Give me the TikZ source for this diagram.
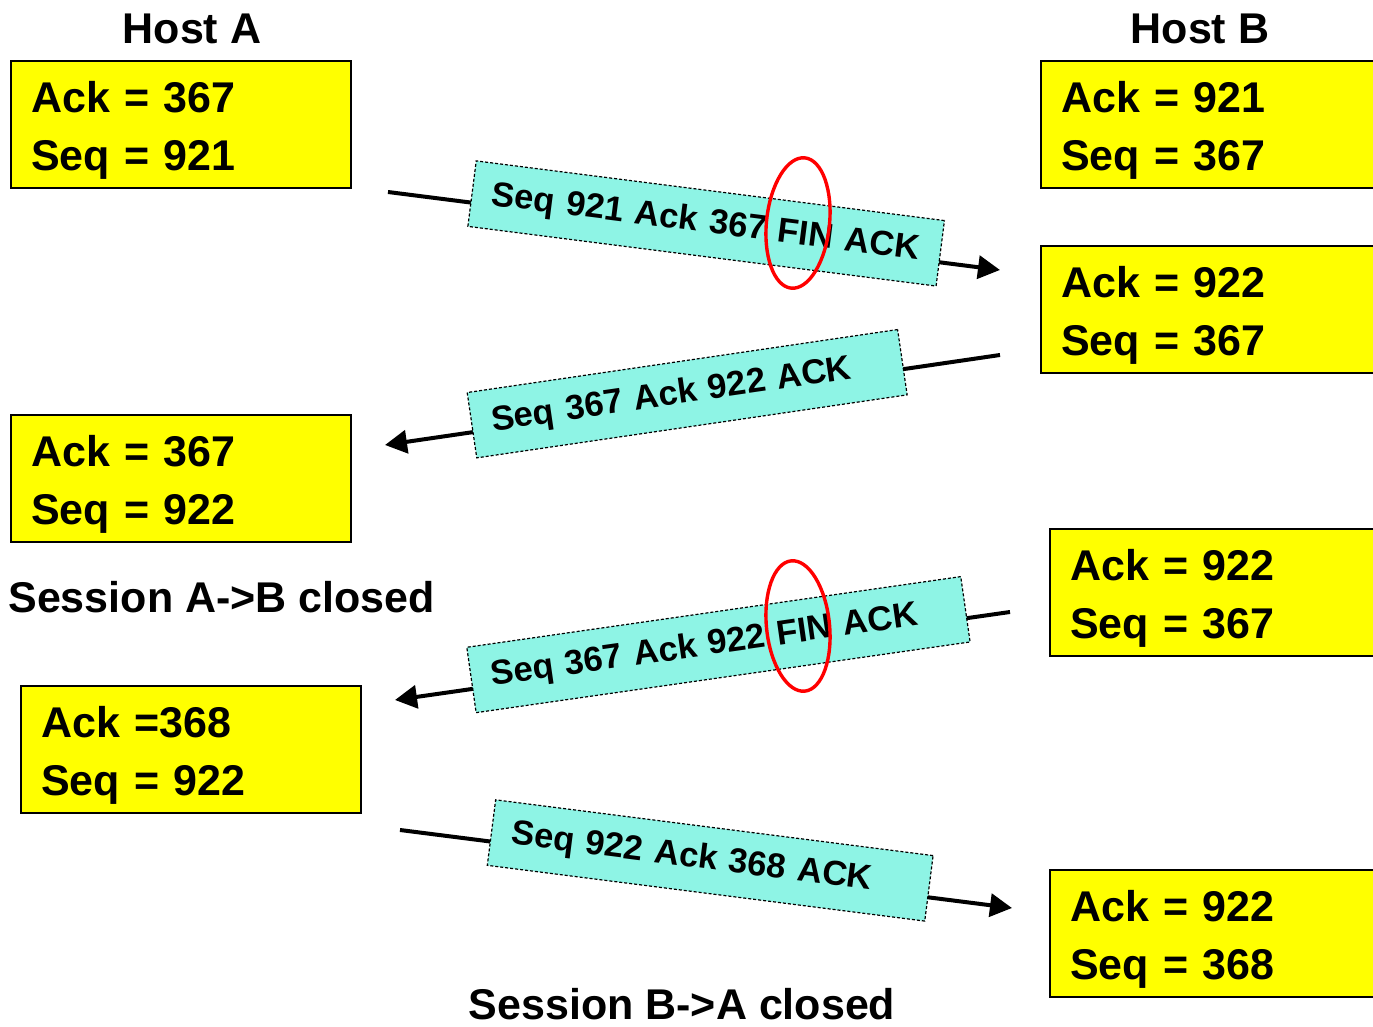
\documentclass[tikz,border=0pt]{standalone}
\usepackage{fontspec}
\setmainfont{Liberation Sans}
\usepackage{xcolor}
\usetikzlibrary{shapes,arrows,arrows.meta,positioning}

\definecolor{segcyan}{RGB}{142,244,229}
\definecolor{boxyellow}{RGB}{255,255,0}

\begin{document}
\begin{tikzpicture}[x=0.5pt, y=-0.5pt]
    % Define styles
    \tikzstyle{counter} = [rectangle, draw=black, line width=1.1pt, fill=boxyellow, anchor=north west, text width=150pt, align=left, inner xsep=10pt, inner ysep=0pt, text height=25.5pt, text depth=38pt, font=\fontsize{21.5}{29}\selectfont\bfseries]
    \tikzstyle{segment} = [rectangle, draw=black, line width=0.6pt, dash pattern=on 1.5pt off 1pt, fill=segcyan, sloped, minimum height=33pt, inner xsep=10pt, align=left, font=\fontsize{17.3}{20}\selectfont\bfseries, yshift=4.5pt]
    \tikzstyle{arrow} = [line width=2pt, -{Triangle[length=11pt, width=11.5pt]}]
    \tikzstyle{backarrow} = [line width=2pt, {Triangle[length=11pt, width=11.5pt]}-]
    \tikzstyle{finmark} = [ellipse, draw=red, line width=1.7pt, minimum width=31.5pt, minimum height=65.5pt, inner sep=0pt]
    \tikzstyle{heading} = [inner sep=0pt, anchor=base, font=\fontsize{21.5}{26}\selectfont\bfseries]

    \useasboundingbox (0,0) rectangle (1373,1027);

    % Hosts
    \node [heading] (host_a) at (192,44) {Host A};
    \node [heading] (host_b) at (1200,44) {Host B};

    % Counters on both sides
    \node [counter] (a_init) at (10,60) {Ack = 367\\Seq = 921};
    \node [counter] (b_init) at (1040,60) {Ack = 921\\Seq = 367};
    \node [counter] (b_fin) at (1040,245) {Ack = 922\\Seq = 367};
    \node [counter] (a_closed) at (10,414) {Ack = 367\\Seq = 922};
    \node [counter] (b_fin2) at (1049,528) {Ack = 922\\Seq = 367};
    \node [counter] (a_last) at (20,685) {Ack =368\\Seq = 922};
    \node [counter] (b_last) at (1049,869) {Ack = 922\\Seq = 368};

    % Arrow ends
    \coordinate (m1_from) at (388,192);
    \coordinate (m1_to) at (1000,270);
    \coordinate (m2_to) at (385,445);
    \coordinate (m2_from) at (1000,355);
    \coordinate (m3_to) at (395,700);
    \coordinate (m3_from) at (1010,612);
    \coordinate (m4_from) at (400,830);
    \coordinate (m4_to) at (1012,908);

    % Segments
    \draw [arrow] (m1_from) -- (m1_to) node[segment, pos=0.518, text width=216pt] (seg_fin_a) {Seq 921 Ack 367 FIN ACK};
    \draw [backarrow] (m2_to) -- (m2_from) node[segment, pos=0.493, text width=197.5pt, yshift=-1pt] (seg_ack_b) {Seq 367 Ack 922 ACK};
    \draw [backarrow] (m3_to) -- (m3_from) node[segment, pos=0.528, text width=229.5pt] (seg_fin_b) {Seq 367 Ack 922 FIN ACK};
    \draw [arrow] (m4_from) -- (m4_to) node[segment, pos=0.505, text width=200.5pt] (seg_ack_a) {Seq 922 Ack 368 ACK};

    % FIN flags
    \node [finmark, rotate=-6] (fin_a) at (798,223) {};
    \node [finmark, rotate=6] (fin_b) at (798,626) {};

    % Session states
    \node [heading, anchor=base west] (closed_ab) at (8,612) {Session A->B closed};
    \node [heading] (closed_ba) at (682,1019) {Session B->A closed};
\end{tikzpicture}
\end{document}
